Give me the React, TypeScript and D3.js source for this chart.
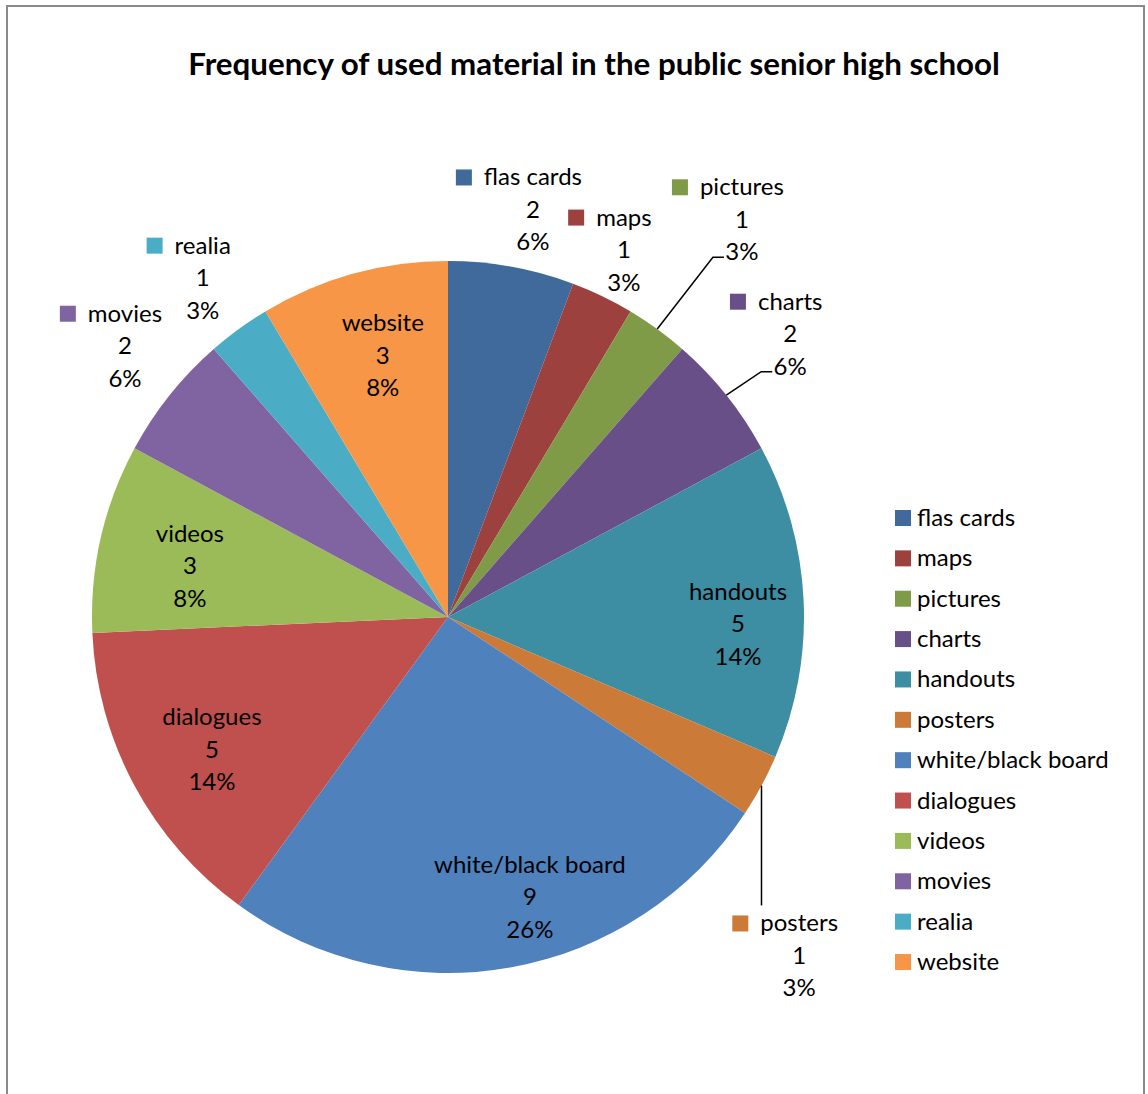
import React from "react";
import * as d3 from "d3";

const categories = ["flas cards", "maps", "pictures", "charts", "handouts", "posters", "white/black board", "dialogues", "videos", "movies", "realia", "website"];
const values = [2, 1, 1, 2, 5, 1, 9, 5, 3, 2, 1, 3];
const percentLabels = ["6%", "3%", "3%", "6%", "14%", "3%", "26%", "14%", "8%", "6%", "3%", "8%"];
const colors = ["#3F6A9B", "#9D413E", "#7F9B48", "#694F88", "#3D8DA3", "#CC7A38", "#4F81BD", "#C0504D", "#9BBB59", "#8064A2", "#4BACC6", "#F79646"];
const title = "Frequency of used material in the public senior high school";

// label layout: distance (fraction of radius), angle offset from slice middle (deg), outside?, leader type
const labelDist = [1.168, 1.143, 1.388, 1.247, 0.815, 1.371, 0.82, 0.761, 0.739, 1.184, 1.175, 0.756];
const labelAngleOffset = [1.5, -0.1, 0.5, -1.0, 4.0, 15.7, -6.0, -1.1, -1.7, 1.4, 0.1, 1.4];
const labelOutside = [true, true, true, true, false, true, false, false, false, true, true, false];
const leaderType = ["", "", "elbow", "elbow", "", "vertical", "", "", "", "", "", ""];

const W = 1148;
const H = 1094;
const CX = 448;
const CY = 617;
const R = 356;
const FONT = "Lato, 'Open Sans', sans-serif";
const FS = 24;
const LINE = 32.5;

export default function App() {
  const pie = d3.pie<number>().sort(null).value((d) => d)(values);
  const arc = d3.arc<d3.PieArcDatum<number>>().innerRadius(0).outerRadius(R);
  const toRad = Math.PI / 180;
  const polar = (r: number, a: number) => [CX + r * Math.sin(a), CY - r * Math.cos(a)];

  const legendY = d3.scaleLinear().domain([0, categories.length - 1]).range([526, 970]);

  return (
    <svg width={W} height={H} style={{ position: "absolute", left: 0, top: 0, background: "#fff" }} fontFamily={FONT}>
      <rect x={7} y={6} width={1137} height={1100} fill="#fff" stroke="#8a8a8a" strokeWidth={2} />
      <text x={594} y={75} textAnchor="middle" fontWeight="bold" fontSize={31.3} fill="#000">{title}</text>
      <g>
        {pie.map((p, i) => (
          <path key={i} d={arc(p) || ""} transform={`translate(${CX},${CY})`} fill={colors[i]} />
        ))}
      </g>
      <g>
        {pie.map((p, i) => {
          const mid = (p.startAngle + p.endAngle) / 2;
          const a = mid + labelAngleOffset[i] * toRad;
          const [lx, lcy] = polar(labelDist[i] * R, a);
          const base2 = lcy + 8;
          const base1 = base2 - LINE;
          const base3 = base2 + LINE;
          const elems: React.ReactNode[] = [];
          if (leaderType[i] === "elbow") {
            const [sx, sy] = polar(R, mid);
            const ex = lx - 18;
            const ey = base3 - 3;
            elems.push(
              <polyline key="l" points={`${sx},${sy} ${ex - 11},${ey} ${ex},${ey}`} fill="none" stroke="#000" strokeWidth={1.5} />
            );
          } else if (leaderType[i] === "vertical") {
            const [sx, sy] = polar(R, mid);
            elems.push(<line key="l" x1={sx} y1={sy} x2={sx} y2={base1 - 26} stroke="#000" strokeWidth={1.5} />);
          }
          return (
            <g key={i}>
              {elems}
              <LabelName x={lx} y={base1} name={categories[i]} color={colors[i]} swatch={labelOutside[i]} />
              <text x={lx} y={base2} textAnchor="middle" fontSize={FS} fill="#000">{values[i]}</text>
              <text x={lx} y={base3} textAnchor="middle" fontSize={FS} fill="#000">{percentLabels[i]}</text>
            </g>
          );
        })}
      </g>
      <g>
        {categories.map((c, i) => (
          <g key={c}>
            <rect x={895} y={legendY(i) - 16} width={16} height={16} fill={colors[i]} />
            <text x={917} y={legendY(i)} fontSize={FS} fill="#000">{c}</text>
          </g>
        ))}
      </g>
    </svg>
  );
}

function LabelName({ x, y, name, color, swatch }: { x: number; y: number; name: string; color: string; swatch: boolean }) {
  const ref = React.useRef<SVGTextElement>(null);
  const [w, setW] = React.useState(0);
  React.useLayoutEffect(() => {
    if (ref.current) setW(ref.current.getComputedTextLength());
  }, [name]);
  return (
    <g>
      {swatch && <rect x={x - w / 2 - 28} y={y - 16} width={16} height={16} fill={color} />}
      <text ref={ref} x={x} y={y} textAnchor="middle" fontSize={FS} fill="#000">{name}</text>
    </g>
  );
}
